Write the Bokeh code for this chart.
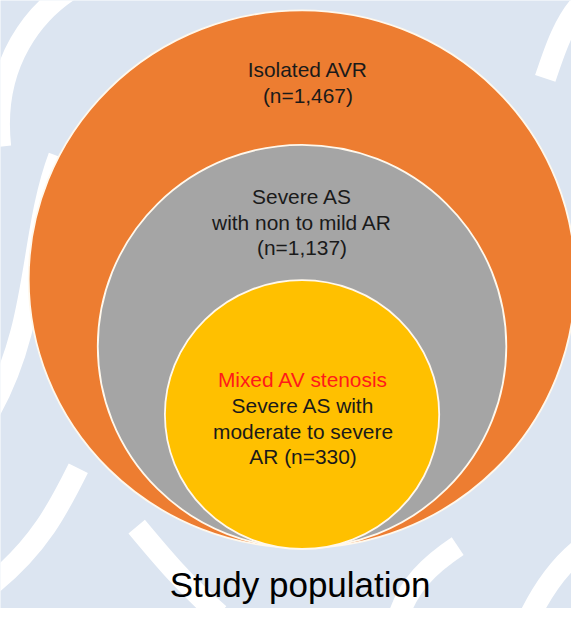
from bokeh.plotting import figure
from bokeh.models import Range1d, ColumnDataSource
from bokeh.core.properties import value
from bokeh.embed import file_html
from bokeh.resources import INLINE

# ---- data ----
groups = ["Isolated AVR", "Severe AS with non to mild AR", "Mixed AV stenosis"]
counts = [1467, 1137, 330]
title_text = "Study population"

# ---- layout / style (reference pixel coordinates, 587 x 624) ----
cx = [310, 310, 310]
cy = [286, 355, 425]
rw = [562, 420, 282]
rh = [552, 414, 276]
fills = ["#ED7D31", "#A5A5A5", "#FFC000"]

W, H = 571, 608
S = W / 587.0
p = figure(width=W, height=H, output_backend="svg", toolbar_location=None,
           x_range=Range1d(0, 587), y_range=Range1d(624, 0),
           min_border=0)
p.axis.visible = False
p.grid.visible = False
p.outline_line_color = None
p.background_fill_color = "#DCE5F1"
p.border_fill_color = "#DCE5F1"

# watermark-like white bands
bg = "#FFFFFF"
bands = [
    (0, 150, -10, 60, 40, 10, 70, -10),
    (-10, 420, 40, 330, 30, 240, 60, 160),
    (-10, 600, 40, 560, 60, 520, 80, 480),
    (140, 540, 165, 570, 190, 600, 225, 630),
    (410, 630, 420, 600, 440, 580, 470, 560),
    (560, 80, 570, 50, 580, 20, 600, 0),
    (545, 630, 560, 600, 580, 575, 600, 560),
]
for b in bands:
    p.bezier(x0=[b[0]], y0=[b[1]], cx0=[b[2]], cy0=[b[3]], cx1=[b[4]], cy1=[b[5]],
             x1=[b[6]], y1=[b[7]], line_color=bg, line_width=22 * S)

src = ColumnDataSource(dict(x=cx, y=cy, w=rw, h=rh, c=fills))
p.ellipse(x="x", y="y", width="w", height="h", fill_color="c", source=src,
          line_color="#FFF8EC", line_width=1.8)

font = value("Liberation Sans")

def fmt(n):
    return f"(n={n:,})"

dy = -5  # baseline correction for the rendered text
lines = [
    (316, 76, "Isolated AVR", "#1A1A1A"),
    (316, 102, fmt(counts[0]), "#1A1A1A"),
    (310, 206, "Severe AS", "#1A1A1A"),
    (310, 233, "with non to mild AR", "#1A1A1A"),
    (310, 259, fmt(counts[1]), "#1A1A1A"),
    (311, 394, groups[2], "#FF1A1A"),
    (311, 421, "Severe AS with", "#1A1A1A"),
    (311, 447, "moderate to severe", "#1A1A1A"),
    (311, 473, "AR " + fmt(counts[2]), "#1A1A1A"),
]
tsrc = ColumnDataSource(dict(x=[l[0] for l in lines], y=[l[1] + dy for l in lines],
                             t=[l[2] for l in lines], c=[l[3] for l in lines]))
p.text(x="x", y="y", text="t", text_color="c", source=tsrc, text_font=font,
       text_font_size=f"{21.5 * S:.1f}px", text_align="center", text_baseline="alphabetic")

p.text(x=[308], y=[599], text=[title_text], text_font=font,
       text_font_size=f"{36 * S:.1f}px",
       text_color="#000000", text_align="center", text_baseline="alphabetic")

open("out.html", "w").write(file_html(p, INLINE))
